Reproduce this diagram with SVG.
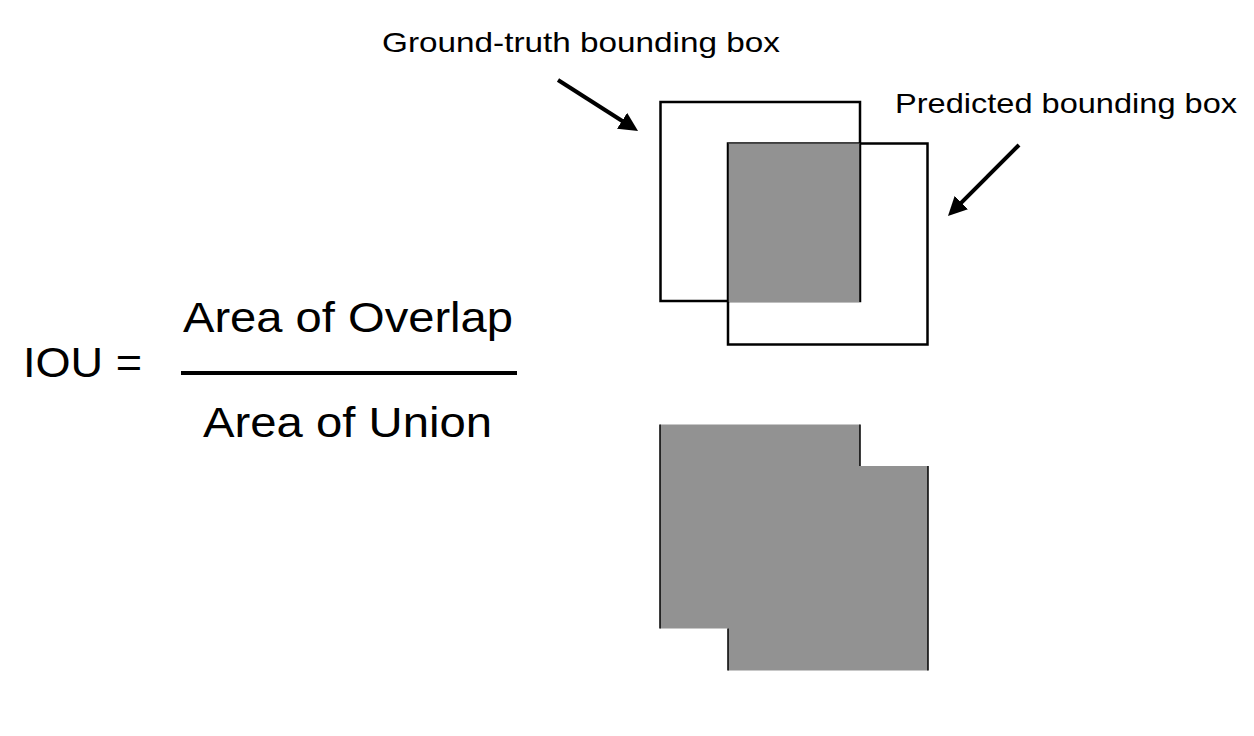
<svg xmlns="http://www.w3.org/2000/svg" width="1254" height="736" viewBox="0 0 1254 736">
  <style>
    .lbl { font-family: "Liberation Sans", Arial, Helvetica, sans-serif; fill: #000; }
    .small { font-size: 28px; }
    .big { font-size: 42px; }
    .box { fill: none; stroke: #000; stroke-width: 2.5; }
    .fillgray { fill: #929292; stroke: none; }
    .edge { fill: none; stroke: #000; stroke-width: 1.5; }
    .arrow { stroke: #000; stroke-width: 4; fill: none; marker-end: url(#head); }
  </style>
  <defs>
    <marker id="head" viewBox="0 0 10 10" refX="2.6" refY="5" markerWidth="19" markerHeight="19" markerUnits="userSpaceOnUse" orient="auto">
      <path d="M0,0 L10,5 L0,10 z" fill="#000"/>
    </marker>
  </defs>
  <rect width="1254" height="736" fill="#fff"/>

  <g id="ground-truth-label">
    <text class="lbl small" x="382" y="52" textLength="398" lengthAdjust="spacingAndGlyphs">Ground-truth bounding box</text>
  </g>
  <g id="predicted-label">
    <text class="lbl small" x="895" y="113" textLength="342" lengthAdjust="spacingAndGlyphs">Predicted bounding box</text>
  </g>

  <g id="overlap-diagram">
    <rect class="box" x="660.5" y="102" width="199.5" height="199"/>
    <rect class="box" x="728" y="143.5" width="199.5" height="201"/>
    <rect class="fillgray" x="728" y="143.5" width="132" height="158.5"/>
    <path class="edge" d="M728,143.5 V302 M860,143.5 V302"/>
  </g>

  <g id="union-diagram">
    <path class="fillgray" d="M660,424.5 H860 V466 H928 V670.5 H728 V628.5 H660 Z"/>
    <path class="edge" d="M660,424.5 V628.5 M860,424.5 V466 M728,628.5 V670.5 M928,466 V670.5"/>
  </g>

  <g id="formula">
    <text class="lbl big" x="23" y="377" textLength="119" lengthAdjust="spacingAndGlyphs">IOU =</text>
    <text class="lbl big" x="183" y="332" textLength="330" lengthAdjust="spacingAndGlyphs">Area of Overlap</text>
    <line x1="181" y1="373" x2="517" y2="373" stroke="#000" stroke-width="4"/>
    <text class="lbl big" x="203" y="437" textLength="289" lengthAdjust="spacingAndGlyphs">Area of Union</text>
  </g>

  <g id="connectors">
    <line class="arrow" x1="558" y1="80" x2="626.2" y2="123.5"/>
    <line class="arrow" x1="1019" y1="145" x2="957.9" y2="206.1"/>
  </g>
</svg>
